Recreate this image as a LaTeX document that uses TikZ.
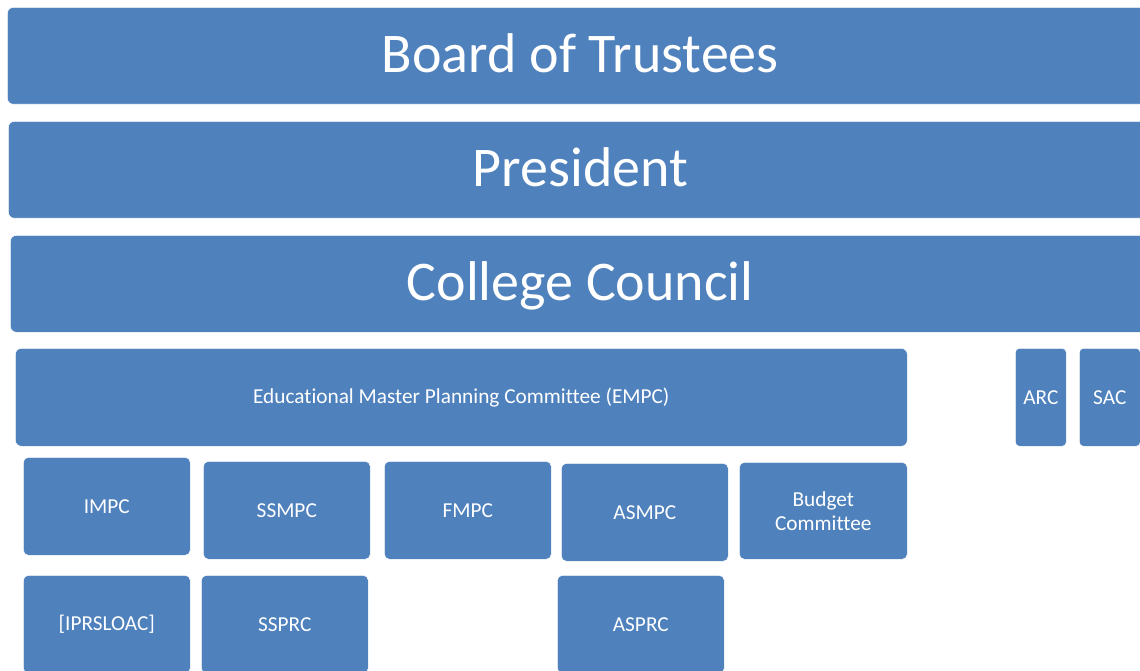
\documentclass[tikz,border=0pt]{standalone}
\usepackage{fontspec}
\setmainfont[Ligatures={NoCommon}]{Carlito}
\definecolor{boxblue}{HTML}{4F81BD}
\tikzset{
  orgbox/.style={fill=boxblue, draw=white, line width=0.6pt, rounded corners=6pt,
    inner sep=0pt, anchor=north west, text=white, align=center},
  bigtext/.style={font=\fontsize{56}{60}\selectfont, text depth=0pt, text height=0pt},
  smalltext/.style={font=\fontsize{21.3}{24}\selectfont},
}
\begin{document}
\begin{tikzpicture}[x=1pt,y=-1pt]
\useasboundingbox (0,0) rectangle (1140,671);
\clip (0,0) rectangle (1140,671);
% top rows
\node[orgbox,minimum width=1146pt,minimum height=97pt] (bot) at (7,7) {};
\node[bigtext,text=white] at ([yshift=-17pt]bot.center) {Board of Trustees};
\node[orgbox,minimum width=1144pt,minimum height=97pt] (pres) at (8,121) {};
\node[bigtext,text=white] at ([yshift=-17pt]pres.center) {President};
\node[orgbox,minimum width=1140pt,minimum height=97pt] (cc) at (10,235) {};
\node[bigtext,text=white] at ([yshift=-17pt]cc.center) {College Council};
% committee row
\node[orgbox,smalltext,minimum width=892pt,minimum height=98pt] (empc) at (15,348) {Educational Master Planning Committee (EMPC)};
\node[orgbox,smalltext,minimum width=51pt,minimum height=98pt,rounded corners=4pt] (arc) at (1015,348) {ARC};
\node[orgbox,smalltext,minimum width=61pt,minimum height=98pt,rounded corners=4pt] (sac) at (1079,348) {SAC};
% sub committees
\node[orgbox,smalltext,minimum width=167pt,minimum height=98pt,rounded corners=5pt] (impc) at (23,457) {IMPC};
\node[orgbox,smalltext,minimum width=167pt,minimum height=98pt,rounded corners=5pt] (ssmpc) at (203,461) {SSMPC};
\node[orgbox,smalltext,minimum width=167pt,minimum height=98pt,rounded corners=5pt] (fmpc) at (384,461) {FMPC};
\node[orgbox,smalltext,minimum width=167pt,minimum height=98pt,rounded corners=5pt] (asmpc) at (561,463) {ASMPC};
\node[orgbox,smalltext,minimum width=168pt,minimum height=97pt,rounded corners=5pt] (budget) at (739,462) {Budget\\Committee};
% bottom row
\node[orgbox,smalltext,minimum width=167pt,minimum height=98pt,rounded corners=5pt] (iprs) at (23,575) {[IPRSLOAC]};
\node[orgbox,smalltext,minimum width=167pt,minimum height=98pt,rounded corners=5pt] (ssprc) at (201,575) {SSPRC};
\node[orgbox,smalltext,minimum width=167pt,minimum height=98pt,rounded corners=5pt] (asprc) at (557,575) {ASPRC};
\end{tikzpicture}
\end{document}
